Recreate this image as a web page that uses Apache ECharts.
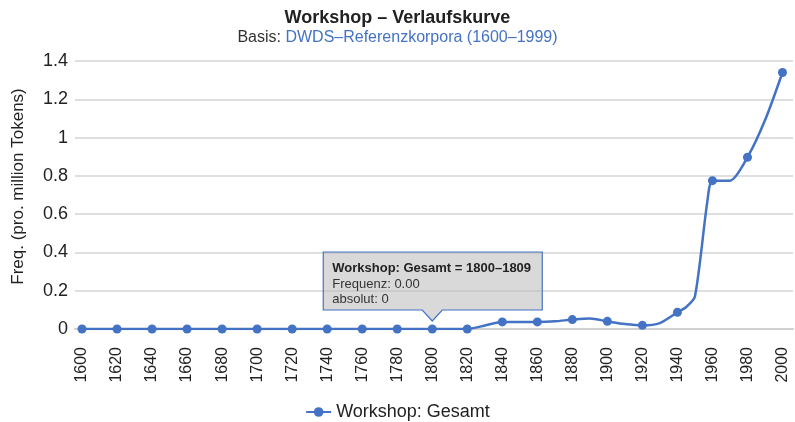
<!DOCTYPE html>
<html>
<head>
<meta charset="utf-8">
<script src="https://cdn.jsdelivr.net/npm/echarts@6/dist/echarts.min.js"></script>
<style>
html,body{margin:0;padding:0;background:#fff;}
#chart{width:795px;height:422px;}
</style>
</head>
<body>
<div id="chart"></div>
<script>
const titleText = 'Workshop – Verlaufskurve';
const subtitlePrefix = 'Basis: ';
const subtitleLink = 'DWDS–Referenzkorpora (1600–1999)';
const seriesName = 'Workshop: Gesamt';
const yAxisName = 'Freq. (pro. million Tokens)';

const years = [1600,1610,1620,1630,1640,1650,1660,1670,1680,1690,
               1700,1710,1720,1730,1740,1750,1760,1770,1780,1790,
               1800,1810,1820,1830,1840,1850,1860,1870,1880,1890,
               1900,1910,1920,1930,1940,1945,1950,1957,1960,1970,
               1980,1990,2000];
const values = [0,0,0,0,0,0,0,0,0,0,
                0,0,0,0,0,0,0,0,0,0,
                0,0,0,0.018,0.037,0.037,0.037,0.04,0.049,0.055,
                0.04,0.026,0.019,0.031,0.087,0.115,0.17,0.66,0.775,0.775,
                0.897,1.09,1.34];
const markerYears = [1600,1620,1640,1660,1680,1700,1720,1740,1760,1780,
                     1800,1820,1840,1860,1880,1900,1920,1940,1960,1980,2000];
const xTickLabels = markerYears;

const tipYear = 1800;
const tipYearEnd = 1809;
const tipAbsolute = 0;

const color = '#4472c4';
const data = years.map((y, i) => [y, values[i]]);

const chart = echarts.init(document.getElementById('chart'), null, {renderer: 'canvas'});
const FONT = '"Liberation Sans", Arial, sans-serif';

const option = {
  animation: false,
  backgroundColor: '#fff',
  title: {
    text: titleText,
    subtext: '{a|' + subtitlePrefix + '}{b|' + subtitleLink + '}',
    left: 'center',
    top: 4,
    itemGap: 3,
    textStyle: {fontFamily: FONT, fontSize: 18, fontWeight: 'bold', color: '#222'},
    subtextStyle: {
      fontFamily: FONT, fontSize: 16, color: '#333',
      rich: {
        a: {fontFamily: FONT, fontSize: 16, color: '#333'},
        b: {fontFamily: FONT, fontSize: 16, color: color}
      }
    }
  },
  legend: {
    top: 398,
    left: 'center',
    itemWidth: 25,
    itemHeight: 12,
    itemGap: 10,
    textStyle: {fontFamily: FONT, fontSize: 18, color: '#222'},
    data: [seriesName]
  },
  grid: {left: 75, right: 2, top: 61, bottom: 93, containLabel: false},
  xAxis: {
    type: 'value',
    min: 1596,
    max: 2006,
    splitLine: {show: false},
    axisLine: {show: true, lineStyle: {color: '#d0d0d0', width: 2}},
    axisTick: {show: false},
    axisLabel: {
      customValues: xTickLabels,
      rotate: 90,
      margin: 18,
      fontFamily: FONT, fontSize: 16, color: '#222',
      formatter: v => String(v)
    }
  },
  yAxis: {
    type: 'value',
    min: 0,
    max: 1.4,
    interval: 0.2,
    name: yAxisName,
    nameLocation: 'middle',
    nameGap: 48,
    nameTextStyle: {fontFamily: FONT, fontSize: 17, color: '#222', padding: [0, 0, 0, 17]},
    axisLine: {show: false},
    axisTick: {show: false},
    splitLine: {lineStyle: {color: '#d4d4d4', width: 1.5}},
    axisLabel: {
      margin: 7,
      fontFamily: FONT, fontSize: 18, color: '#222',
      formatter: v => String(Math.round(v * 10) / 10)
    }
  },
  series: [{
    name: seriesName,
    type: 'line',
    data: data,
    smooth: 0.25,
    showAllSymbol: true,
    symbol: 'circle',
    symbolSize: (val) => markerYears.indexOf(val[0]) >= 0 ? 9 : 0,
    lineStyle: {color: color, width: 2.5},
    itemStyle: {color: color},
    z: 3
  }]
};
chart.setOption(option);

// Pinned tooltip at the selected year
const tipIdx = years.indexOf(tipYear);
const p = chart.convertToPixel({gridIndex: 0}, [tipYear, values[tipIdx]]);
const ax = p[0], ay = p[1];
const L = ax - 109, R = ax + 110, T = ay - 77, B = ay - 19, TIP = ay - 8;
chart.setOption({
  graphic: [{
    type: 'group',
    z: 100,
    children: [
      {
        type: 'polygon',
        shape: {points: [[L, T], [R, T], [R, B], [ax + 10, B], [ax, TIP], [ax - 10, B], [L, B]]},
        style: {fill: 'rgba(185,185,185,0.55)', stroke: color, lineWidth: 1.2}
      },
      {
        type: 'text', x: L + 9, y: T + 16,
        style: {text: seriesName + ' = ' + tipYear + '–' + tipYearEnd, font: 'bold 13px ' + FONT, fill: '#222', textVerticalAlign: 'middle'}
      },
      {
        type: 'text', x: L + 9, y: T + 32,
        style: {text: 'Frequenz: ' + values[tipIdx].toFixed(2), font: '13px ' + FONT, fill: '#333', textVerticalAlign: 'middle'}
      },
      {
        type: 'text', x: L + 9, y: T + 47,
        style: {text: 'absolut: ' + tipAbsolute, font: '13px ' + FONT, fill: '#333', textVerticalAlign: 'middle'}
      }
    ]
  }]
});
</script>
</body>
</html>
